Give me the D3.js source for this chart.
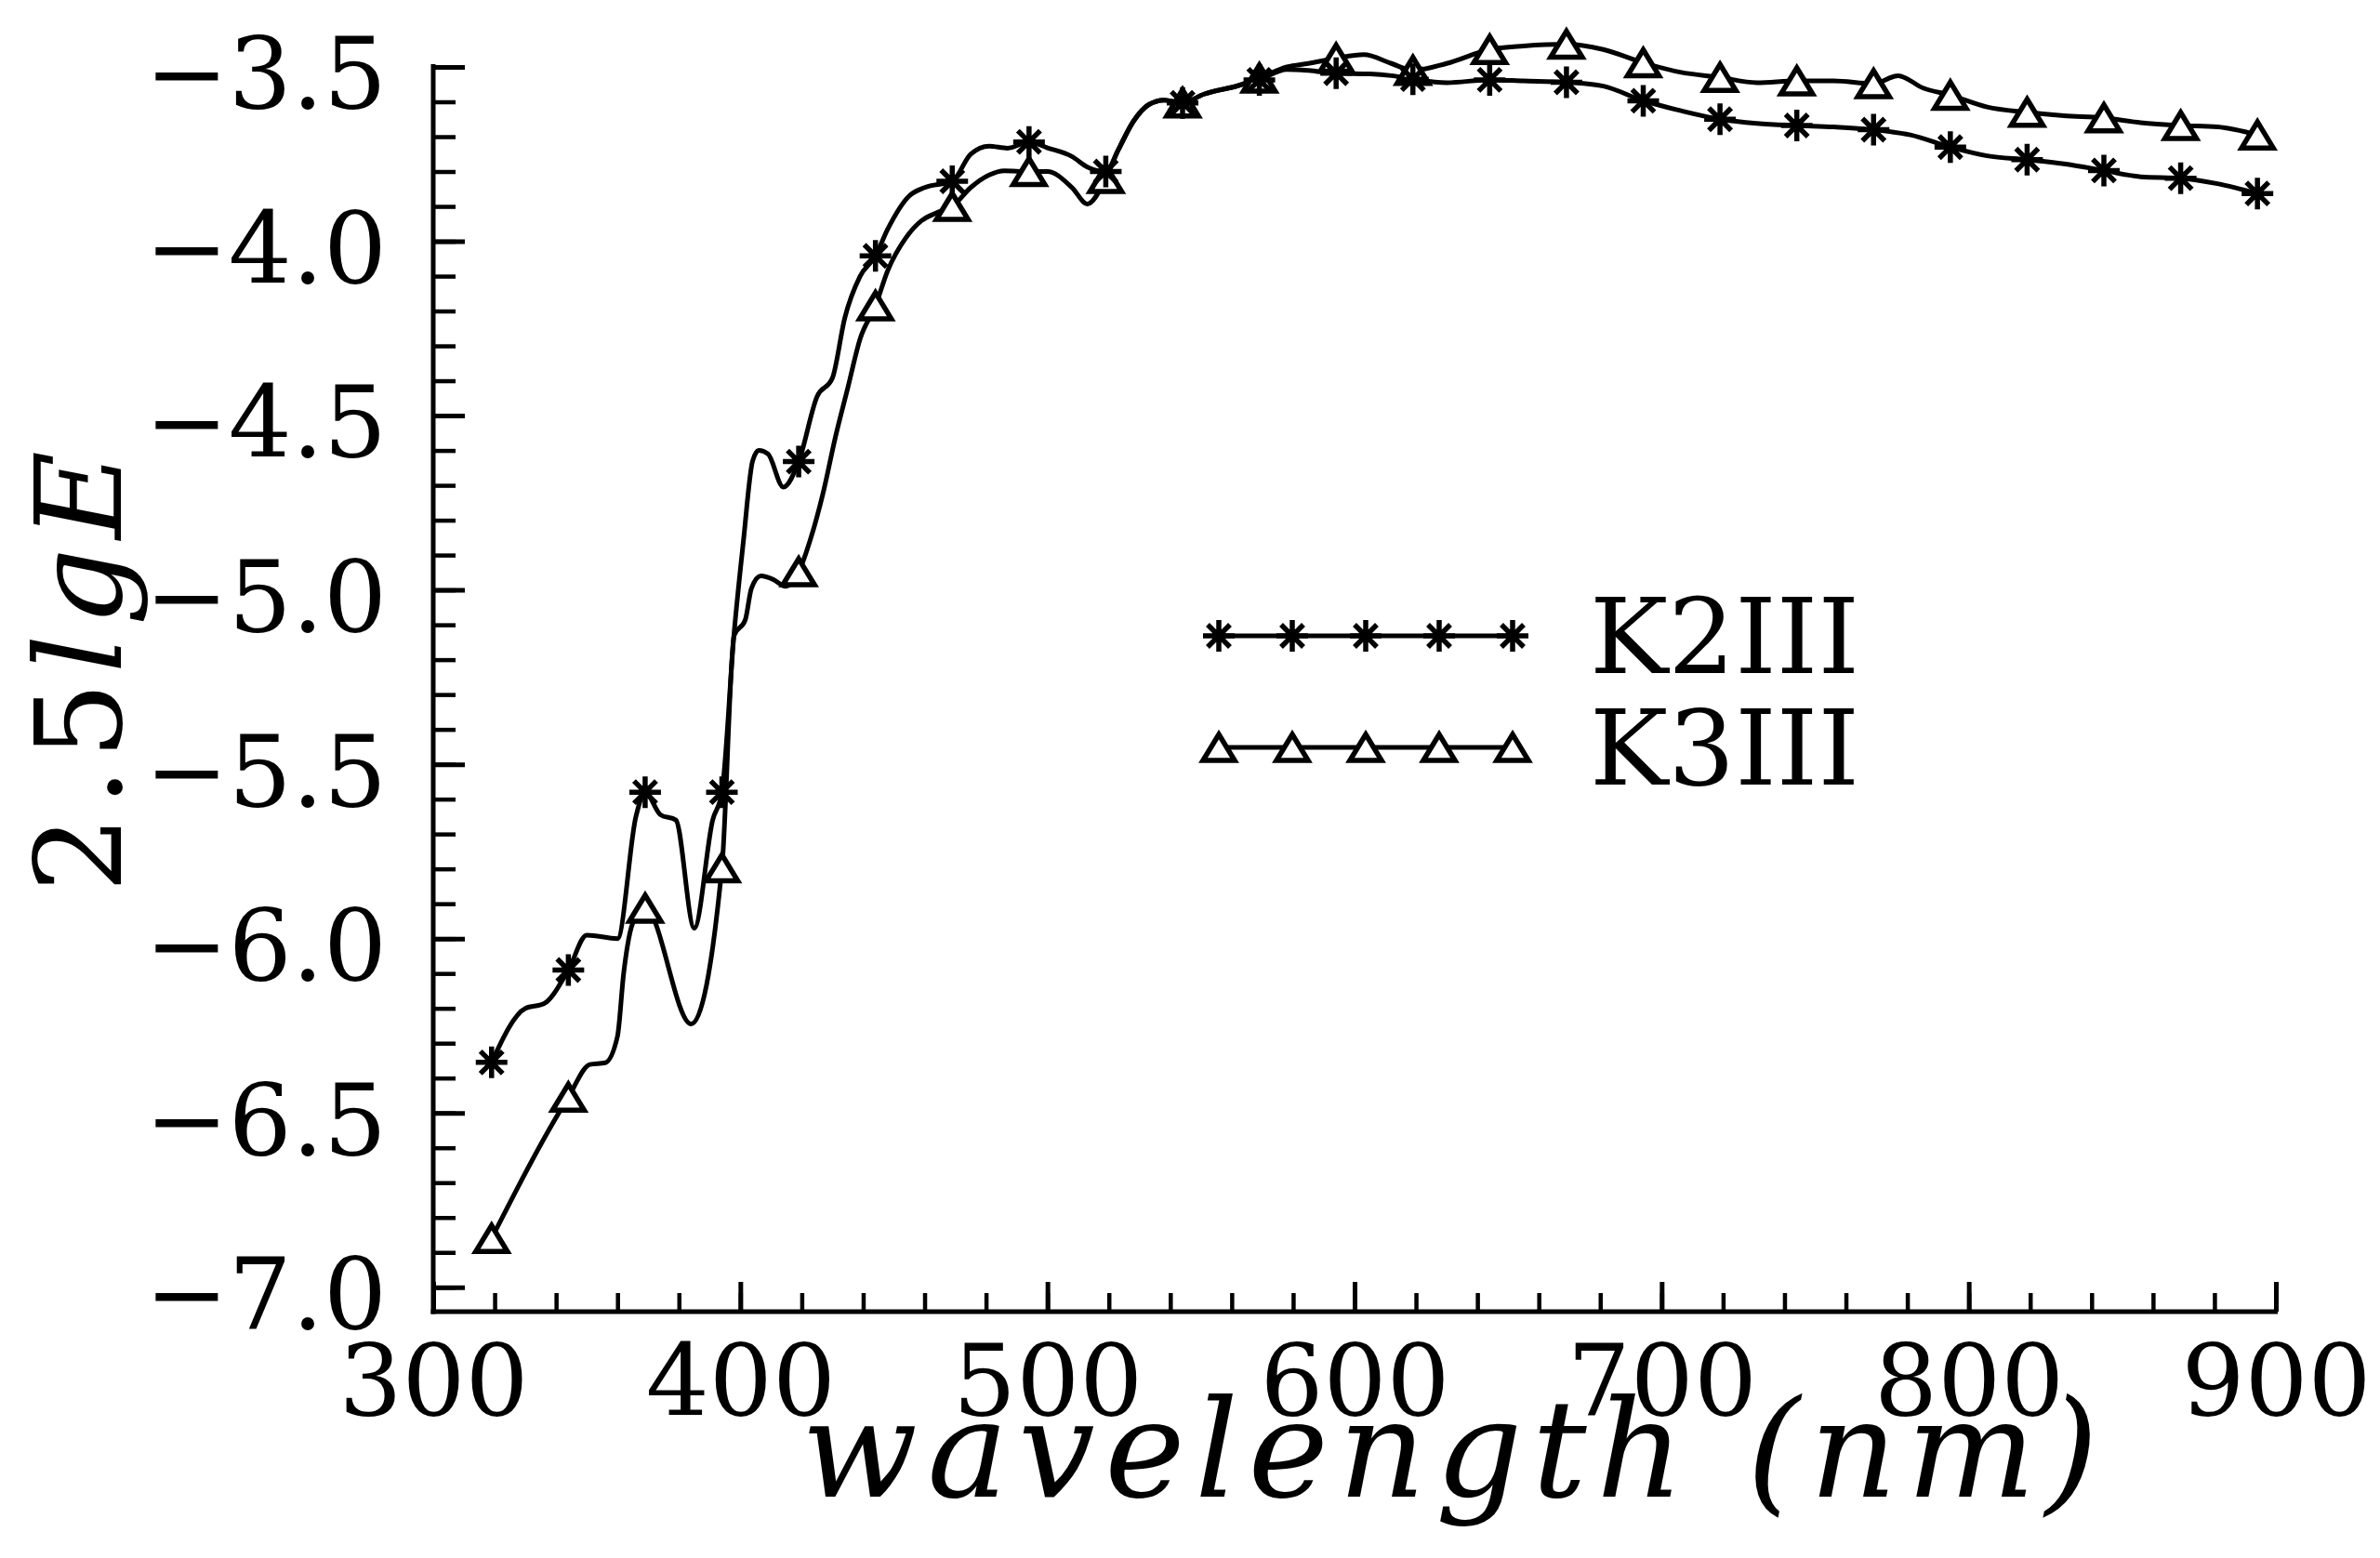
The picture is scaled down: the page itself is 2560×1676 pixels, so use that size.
<!DOCTYPE html>
<html>
<head>
<meta charset="utf-8">
<script src="https://cdn.jsdelivr.net/npm/d3@7"></script>
<style>
  html, body { margin: 0; padding: 0; background: #fff; }
  svg { display: block; }
</style>
</head>
<body>
<svg id="chart" width="2560" height="1676"></svg>
<script>
// ---- data ----
const k2Wavelength = [319,330,336,344,350,360,366,369,374,379,385,391,394,398,401,404,406,409,414,419,425,430,434,439,444,448,455,460,469,475,481,487,494,500,508,513,519,523,528,533,538,544,551,562,569,578,585,594,605,612,619,630,644,655,669,681,694,706,719,731,744,756,769,781,794,806,819,831,844,856,869,881,894];
const k2Value = [-6.355,-6.20,-6.187,-6.09,-5.99,-6.00,-5.65,-5.58,-5.645,-5.66,-5.97,-5.66,-5.58,-5.12,-4.86,-4.63,-4.60,-4.61,-4.705,-4.632,-4.445,-4.392,-4.22,-4.10,-4.042,-3.965,-3.87,-3.846,-3.828,-3.75,-3.727,-3.733,-3.715,-3.732,-3.757,-3.787,-3.80,-3.739,-3.656,-3.608,-3.595,-3.603,-3.578,-3.554,-3.537,-3.507,-3.51,-3.518,-3.52,-3.525,-3.535,-3.545,-3.537,-3.54,-3.544,-3.555,-3.597,-3.625,-3.65,-3.662,-3.668,-3.672,-3.68,-3.695,-3.73,-3.755,-3.766,-3.778,-3.797,-3.815,-3.819,-3.835,-3.863];

const k3Wavelength = [319,344,351,356,360,362,365,369,384,394,398,401.6,403.6,406.7,410.7,414.7,419,423,427,431,435,439,444,448,454,459,464,469,475,481,486,494,500,508,513,519,523,528,533,538,544,551,562,569,578,585,594,603,612,619,630,644,655,669,681,694,706,719,731,744,756,769,777,785,794,806,819,831,844,856,869,881,894];
const k3Value = [-6.86,-6.455,-6.361,-6.356,-6.28,-6.10,-5.955,-5.913,-6.245,-5.797,-5.13,-5.086,-4.996,-4.96,-4.97,-4.99,-4.948,-4.85,-4.72,-4.56,-4.42,-4.28,-4.185,-4.084,-3.989,-3.941,-3.918,-3.90,-3.846,-3.81,-3.798,-3.80,-3.80,-3.846,-3.893,-3.82,-3.739,-3.656,-3.608,-3.595,-3.603,-3.578,-3.554,-3.532,-3.50,-3.49,-3.475,-3.465,-3.49,-3.51,-3.49,-3.45,-3.44,-3.435,-3.45,-3.488,-3.515,-3.53,-3.545,-3.54,-3.54,-3.548,-3.525,-3.56,-3.581,-3.615,-3.63,-3.64,-3.646,-3.66,-3.668,-3.672,-3.695];

const markerWavelengths = [319,344,369,394,419,444,469,494,519,544,569,594,619,644,669,694,719,744,769,794,819,844,869,894];

const seriesNames = ["K2III", "K3III"];
const xMajorTicks = [300,400,500,600,700,800,900];
const yMajorTicks = [-7.0,-6.5,-6.0,-5.5,-5.0,-4.5,-4.0,-3.5];
const xTitle = "wavelength (nm)";
const yTitleRoman = "2.5";
const yTitleItalic = "lgE";

// ---- layout ----
const svg = d3.select("#chart");
const x = d3.scaleLinear().domain([300, 900]).range([466, 2448]);
const y = d3.scaleLinear().domain([-7.07, -3.49]).range([1411, 68.25]);
const font = "'DejaVu Serif', 'Liberation Serif', serif";
const AX_W = 5;

const xMinor = d3.range(300, 901, 20);
const yMinor = d3.range(-70, -34, 1).map(d => d / 10);

// y minor ticks
svg.append("g").attr("transform", `translate(${x(300)},0)`)
  .call(d3.axisLeft(y).tickValues(yMinor).tickSize(-24).tickSizeOuter(0).tickFormat(""))
  .call(g => g.select(".domain").remove())
  .call(g => g.selectAll("line").attr("stroke", "#000").attr("stroke-width", 4.5));

// y major ticks + labels
svg.append("g").attr("transform", `translate(${x(300)},0)`)
  .call(d3.axisLeft(y).tickValues(yMajorTicks).tickSize(-34).tickSizeOuter(0).tickPadding(50).tickFormat(d3.format(".1f")))
  .call(g => g.select(".domain").remove())
  .call(g => g.selectAll("line").attr("stroke", "#000").attr("stroke-width", 5))
  .call(g => g.selectAll("text").attr("font-family", font).attr("font-size", 107).attr("fill", "#000").attr("dy", "0.41em"));

// x minor ticks
svg.append("g").attr("transform", `translate(0,${y(-7.07)})`)
  .call(d3.axisBottom(x).tickValues(xMinor).tickSize(-20).tickSizeOuter(0).tickFormat(""))
  .call(g => g.select(".domain").remove())
  .call(g => g.selectAll("line").attr("stroke", "#000").attr("stroke-width", 4.5));

// x major ticks + labels
svg.append("g").attr("transform", `translate(0,${y(-7.07)})`)
  .call(d3.axisBottom(x).tickValues(xMajorTicks).tickSize(-32).tickSizeOuter(0).tickPadding(35).tickFormat(d3.format("d")))
  .call(g => g.select(".domain").remove())
  .call(g => g.selectAll("line").attr("stroke", "#000").attr("stroke-width", 5))
  .call(g => g.selectAll("text").attr("font-family", font).attr("font-size", 107).attr("fill", "#000"));

// axis lines
svg.append("line").attr("x1", x(300)).attr("x2", x(300)).attr("y1", y(-3.5) - 3).attr("y2", y(-7.07) + AX_W/2)
  .attr("stroke", "#000").attr("stroke-width", AX_W);
svg.append("line").attr("x1", x(300) - AX_W/2).attr("x2", x(900) + 2).attr("y1", y(-7.07)).attr("y2", y(-7.07))
  .attr("stroke", "#000").attr("stroke-width", AX_W);

// ---- series ----
const line = d3.line().x(d => x(d[0])).y(d => y(d[1])).curve(d3.curveMonotoneX);
const k2 = k2Wavelength.map((w, i) => [w, k2Value[i]]);
const k3 = k3Wavelength.map((w, i) => [w, k3Value[i]]);

svg.append("path").datum(k3).attr("d", line).attr("fill", "none").attr("stroke", "#000").attr("stroke-width", 5).attr("stroke-linejoin", "round");
svg.append("path").datum(k2).attr("d", line).attr("fill", "none").attr("stroke", "#000").attr("stroke-width", 5).attr("stroke-linejoin", "round");

function drawStar(g, cx, cy) {
  const r = 17, d = 12;
  const p = `M${cx-r},${cy}L${cx+r},${cy}M${cx},${cy-r}L${cx},${cy+r}M${cx-d},${cy-d}L${cx+d},${cy+d}M${cx-d},${cy+d}L${cx+d},${cy-d}`;
  g.append("path").attr("d", p).attr("stroke", "#000").attr("stroke-width", 5.5).attr("fill", "none");
}
function drawTri(g, cx, cy) {
  const w = 17, h = 14;
  g.append("path").attr("d", `M${cx},${cy-h}L${cx+w},${cy+h}L${cx-w},${cy+h}Z`)
    .attr("stroke", "#000").attr("stroke-width", 5.5).attr("fill", "#fff").attr("stroke-linejoin", "miter");
}

const mk = svg.append("g");
k3.filter(d => markerWavelengths.includes(d[0])).forEach(d => drawTri(mk, x(d[0]), y(d[1])));
k2.filter(d => markerWavelengths.includes(d[0])).forEach(d => drawStar(mk, x(d[0]), y(d[1])));

// ---- legend ----
const legend = svg.append("g");
const legX0 = 1311, legX1 = 1627, legRows = [684, 804];
const legMarks = d3.range(5).map(i => legX0 + i * (legX1 - legX0) / 4);
seriesNames.forEach((name, i) => {
  const ly = legRows[i];
  legend.append("line").attr("x1", legX0).attr("x2", legX1).attr("y1", ly).attr("y2", ly)
    .attr("stroke", "#000").attr("stroke-width", 5);
  legMarks.forEach(mx => i === 0 ? drawStar(legend, mx, ly) : drawTri(legend, mx, ly));
  legend.append("text").attr("x", 1710).attr("y", ly + 40).attr("font-family", font).attr("font-size", 112)
    .attr("textLength", 290).attr("lengthAdjust", "spacingAndGlyphs").text(name);
});

// ---- titles ----
svg.append("text").attr("x", 862).attr("y", 1610).attr("font-family", font).attr("font-style", "italic")
  .attr("font-size", 146).attr("textLength", 1395).attr("lengthAdjust", "spacing").text(xTitle);

const yt = svg.append("text").attr("transform", "translate(130,960) rotate(-90)")
  .attr("font-family", font).attr("font-size", 130).attr("textLength", 475).attr("lengthAdjust", "spacing");
yt.append("tspan").text(yTitleRoman);
yt.append("tspan").attr("font-style", "italic").text(yTitleItalic);
</script>
</body>
</html>
